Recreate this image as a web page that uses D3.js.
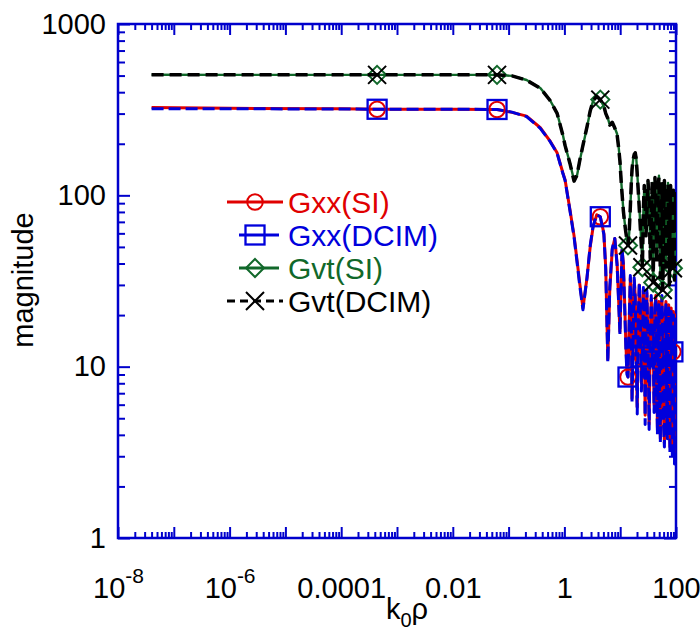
<!DOCTYPE html>
<html>
<head>
<meta charset="utf-8">
<script src="https://cdn.jsdelivr.net/npm/d3@7"></script>
<style>
  body { margin: 0; background: #fff; }
  svg { display: block; font-family: "Liberation Sans", Arial, Helvetica, sans-serif; }
</style>
</head>
<body>
<svg id="chart" width="700" height="637"></svg>
<script>
// Normalised distance k0*rho shared by all four curves
const rho = [
  4e-8, 1e-6, 1e-4, 4.4e-4, 1e-2, 0.062, 0.115, 0.21, 0.37, 0.55, 0.74, 0.94, 1.03, 1.26, 1.49, 1.68, 1.9, 2.15, 2.54, 2.9, 3.26, 3.8, 4.4,
  5.1, 5.5, 6.0, 6.5, 7.2, 8.0, 8.8, 9.4, 9.9, 10.4, 10.8, 11.4, 12.0, 12.6, 13.2, 13.8, 14.5, 15.2, 15.8, 16.3, 17.0, 17.8, 18.6, 19.4, 20.2,
  21, 22, 23, 24, 25, 26, 27, 28, 29, 30,
  31.5, 33, 34.5, 36, 37.5, 39, 40.5, 42, 43.5, 45, 46.5, 48, 49.5, 51, 52.5, 54,
  56, 58, 60, 62, 64, 66, 68, 70, 72, 74, 76, 78, 80, 82, 84, 86, 88, 90, 92, 94, 96, 98, 100
];

// |Gxx| from the spatial-domain integration
const gxxSI = [
  326, 322, 320, 318, 318, 317, 305, 290, 248, 208, 177, 135, 123, 82, 58, 42, 30, 22, 33, 50, 65, 77, 75,
  60, 38, 11, 28, 48, 56, 40, 24, 16, 30, 48, 40, 24, 14, 9.5, 8.7, 18, 33, 20, 6.5, 14, 32, 26, 12, 5.8,
  18, 30, 22, 8, 11.4, 28, 20, 5.2, 16, 27,
  15, 4.6, 14, 25, 18, 13.9, 6, 22, 26, 9, 4.4, 17, 24, 7, 3.8, 15,
  25, 14.9, 5, 3.6, 19, 24, 8, 4.2, 16, 23, 6, 3.4, 14, 22, 10, 3.3, 12.2, 21, 7, 3, 15, 20, 9
];

// |Gxx| from the discrete complex image method
const gxxDCIM = [
  320, 320, 319, 318, 318, 317, 306, 288, 246, 207, 176, 134, 122, 81, 57, 41, 29, 21.5, 33, 51, 66, 77, 75,
  59, 37, 10.6, 29, 49, 56, 39, 23, 15.5, 31, 49, 39, 23, 13, 9, 8.7, 19, 34, 19, 6.2, 13, 33, 25, 11, 5.3,
  19, 31, 21, 7.2, 11.4, 29, 19, 4.6, 17, 28,
  14, 4.3, 15, 26, 17, 13.9, 5.4, 23, 25, 8, 4, 18, 23, 6.2, 3.6, 16,
  26, 14.9, 4.4, 3.4, 20, 23, 7, 3.8, 17, 22, 5.2, 3.1, 15, 21, 9, 2.9, 12.2, 20, 6, 2.7, 16, 19, 8
];

// |Gvt| from the spatial-domain integration
const gvtSI = [
  506, 505, 505, 505, 505, 505, 498, 471, 423, 360, 302, 225, 195, 154, 122, 130, 161, 195, 250, 310, 355, 378, 362,
  330, 300, 282, 258, 266, 248, 228, 190, 160, 123, 103, 82, 70, 62, 56, 51, 60, 85, 115, 140, 160, 172, 177, 165, 135,
  110, 85, 66, 52, 38, 80, 112, 98, 60, 75,
  120, 95, 45, 70, 118, 31, 80, 125, 100, 42, 55, 110, 130, 70, 35, 60,
  115, 28, 75, 120, 95, 40, 55, 108, 118, 60, 32, 70, 112, 90, 38, 52, 37.5, 105, 80, 34, 58, 100, 70
];

// |Gvt| from the discrete complex image method
const gvtDCIM = [
  506, 505, 505, 505, 505, 505, 498, 470, 422, 359, 301, 224, 195, 153, 121, 131, 162, 196, 251, 311, 356, 378, 362,
  331, 301, 281, 257, 267, 247, 226, 188, 158, 121, 102, 81, 69, 61, 55, 51, 61, 86, 117, 142, 161, 173, 177, 163, 132,
  108, 83, 64, 50, 38, 82, 114, 96, 58, 77,
  122, 93, 43, 72, 120, 31, 78, 127, 98, 40, 57, 112, 128, 68, 33, 62,
  117, 28, 73, 122, 93, 38, 57, 110, 116, 58, 30, 72, 114, 88, 36, 54, 37.5, 107, 78, 32, 60, 102, 68
];

// Sample points that carry a symbol
const markerRho = [4.4e-4, 0.062, 4.4, 13.8, 25, 39, 58, 88];

// Axis labelling
const xTickValues = [1e-8, 1e-6, 1e-4, 1e-2, 1, 100];
const xTickLabels = ["10^-8", "10^-6", "0.0001", "0.01", "1", "100"];
const yTickValues = [1, 10, 100, 1000];
const yTickLabels = ["1", "10", "100", "1000"];
const seriesNames = ["Gxx(SI)", "Gxx(DCIM)", "Gvt(SI)", "Gvt(DCIM)"];

const series = [
  { name: seriesNames[0], values: gxxSI,   color: "#e00000", width: 3.0, dash: null,   symbol: "circle",  legendLine: [227, 283], legendDash: null },
  { name: seriesNames[1], values: gxxDCIM, color: "#0000dc", width: 3.0, dash: "12,5", symbol: "square",  legendLine: [239, 279], legendDash: null },
  { name: seriesNames[2], values: gvtSI,   color: "#11682a", width: 2.4, dash: null,   symbol: "diamond", legendLine: [239, 279], legendDash: null },
  { name: seriesNames[3], values: gvtDCIM, color: "#000000", width: 3.5, dash: "12,6", symbol: "cross",   legendLine: [227, 283], legendDash: "8,5" }
];

const axisColor = "#0000cc";
const svg = d3.select("#chart");
const plot = { left: 118, right: 676, top: 24, bottom: 538 };

const x = d3.scaleLog().domain([1e-8, 100]).range([plot.left, plot.right]);
const y = d3.scaleLog().domain([1, 1000]).range([plot.bottom, plot.top]);

// minor ticks at 2..9 inside every decade
const minorX = [];
for (let e = -8; e < 2; e++) for (let k = 2; k <= 9; k++) minorX.push(k * Math.pow(10, e));
const majorX = d3.range(-8, 3).map(e => Math.pow(10, e));
const minorY = [];
for (let e = 0; e < 3; e++) for (let k = 2; k <= 9; k++) minorY.push(k * Math.pow(10, e));

function styleAxis(g) {
  g.select(".domain").remove();
  g.selectAll(".tick line").attr("stroke", axisColor).attr("stroke-width", 2);
}

// Bottom axis
svg.append("g").attr("transform", `translate(0,${plot.bottom})`)
  .call(d3.axisBottom(x).tickValues(minorX).tickSize(-6).tickFormat("")).call(styleAxis);
const xMajor = svg.append("g").attr("transform", `translate(0,${plot.bottom})`)
  .call(d3.axisBottom(x).tickValues(majorX).tickSize(-11).tickPadding(39)
    .tickFormat(d => { const i = xTickValues.findIndex(v => Math.abs(Math.log10(v) - Math.log10(d)) < 1e-6); return i >= 0 ? xTickLabels[i] : ""; }))
  .call(styleAxis);
xMajor.selectAll(".tick text")
  .attr("fill", "#000").attr("font-size", 29)
  .each(function () {
    const t = d3.select(this);
    const s = t.text();
    if (s.includes("^")) {
      const [base, exp] = s.split("^");
      t.text(null);
      t.append("tspan").text(base);
      t.append("tspan").attr("font-size", 21).attr("dy", "-15").text(exp);
    }
  });

// Top axis
svg.append("g").attr("transform", `translate(0,${plot.top})`)
  .call(d3.axisTop(x).tickValues(minorX).tickSize(-6).tickFormat("")).call(styleAxis);
svg.append("g").attr("transform", `translate(0,${plot.top})`)
  .call(d3.axisTop(x).tickValues(majorX).tickSize(-11).tickFormat("")).call(styleAxis);

// Left axis
svg.append("g").attr("transform", `translate(${plot.left},0)`)
  .call(d3.axisLeft(y).tickValues(minorY).tickSize(-7).tickFormat("")).call(styleAxis);
svg.append("g").attr("transform", `translate(${plot.left},0)`)
  .call(d3.axisLeft(y).tickValues(yTickValues).tickSize(-12).tickPadding(12)
    .tickFormat((d, i) => yTickLabels[i]))
  .call(styleAxis)
  .selectAll(".tick text").attr("fill", "#000").attr("font-size", 29);

// Right axis
svg.append("g").attr("transform", `translate(${plot.right},0)`)
  .call(d3.axisRight(y).tickValues(minorY).tickSize(-7).tickFormat("")).call(styleAxis);
svg.append("g").attr("transform", `translate(${plot.right},0)`)
  .call(d3.axisRight(y).tickValues(yTickValues).tickSize(-12).tickFormat("")).call(styleAxis);

// Frame
svg.append("rect")
  .attr("x", plot.left).attr("y", plot.top)
  .attr("width", plot.right - plot.left).attr("height", plot.bottom - plot.top)
  .attr("fill", "none").attr("stroke", axisColor).attr("stroke-width", 2.5);

// Axis titles
const xt = svg.append("text").attr("x", 407).attr("y", 619).attr("text-anchor", "middle")
  .attr("font-size", 29).attr("fill", "#000");
xt.append("tspan").text("k");
xt.append("tspan").attr("font-size", 20).attr("dy", 8).text("0");
xt.append("tspan").attr("dy", -8).text("ρ");

svg.append("text").attr("transform", "translate(33,280) rotate(-90)")
  .attr("text-anchor", "middle").attr("font-size", 29).attr("fill", "#000").text("magnitude");

// Symbols
function drawSymbol(g, type, cx, cy, color) {
  if (type === "circle") {
    g.append("circle").attr("cx", cx).attr("cy", cy).attr("r", 7.8)
      .attr("fill", "none").attr("stroke", color).attr("stroke-width", 2);
  } else if (type === "square") {
    g.append("rect").attr("x", cx - 9.5).attr("y", cy - 9.5).attr("width", 19).attr("height", 19)
      .attr("fill", "none").attr("stroke", color).attr("stroke-width", 2.3);
  } else if (type === "diamond") {
    const r = 9;
    g.append("path").attr("d", `M${cx},${cy - r}L${cx + r},${cy}L${cx},${cy + r}L${cx - r},${cy}Z`)
      .attr("fill", "none").attr("stroke", color).attr("stroke-width", 2);
  } else if (type === "cross") {
    const r = 9;
    g.append("path").attr("d", `M${cx - r},${cy - r}L${cx + r},${cy + r}M${cx - r},${cy + r}L${cx + r},${cy - r}`)
      .attr("fill", "none").attr("stroke", color).attr("stroke-width", 2);
  }
}

svg.append("clipPath").attr("id", "plotClip").append("rect")
  .attr("x", plot.left).attr("y", plot.top)
  .attr("width", plot.right - plot.left).attr("height", plot.bottom - plot.top);

const line = d3.line().x(d => x(d.r)).y(d => y(d.v));
const isMarker = r => markerRho.some(m => Math.abs(m - r) / m < 1e-6);

series.forEach(s => {
  const pts = rho.map((r, i) => ({ r, v: s.values[i] }));
  const g = svg.append("g");
  g.append("path").datum(pts).attr("d", line).attr("clip-path", "url(#plotClip)")
    .attr("fill", "none").attr("stroke", s.color).attr("stroke-width", s.width)
    .attr("stroke-linejoin", "round")
    .attr("stroke-dasharray", s.dash);
  pts.filter(p => isMarker(p.r)).forEach(p => drawSymbol(g, s.symbol, x(p.r), y(p.v), s.color));
});

// Legend
const legendY = [202, 235, 268, 301];
series.forEach((s, i) => {
  const g = svg.append("g");
  g.append("line").attr("x1", s.legendLine[0]).attr("x2", s.legendLine[1])
    .attr("y1", legendY[i]).attr("y2", legendY[i])
    .attr("stroke", s.color).attr("stroke-width", 3)
    .attr("stroke-dasharray", s.legendDash);
  drawSymbol(g, s.symbol, 255, legendY[i], s.color);
  g.append("text").attr("x", 288).attr("y", legendY[i]).attr("dy", "0.36em")
    .attr("font-size", 30).attr("fill", s.color).text(s.name);
});
</script>
</body>
</html>
